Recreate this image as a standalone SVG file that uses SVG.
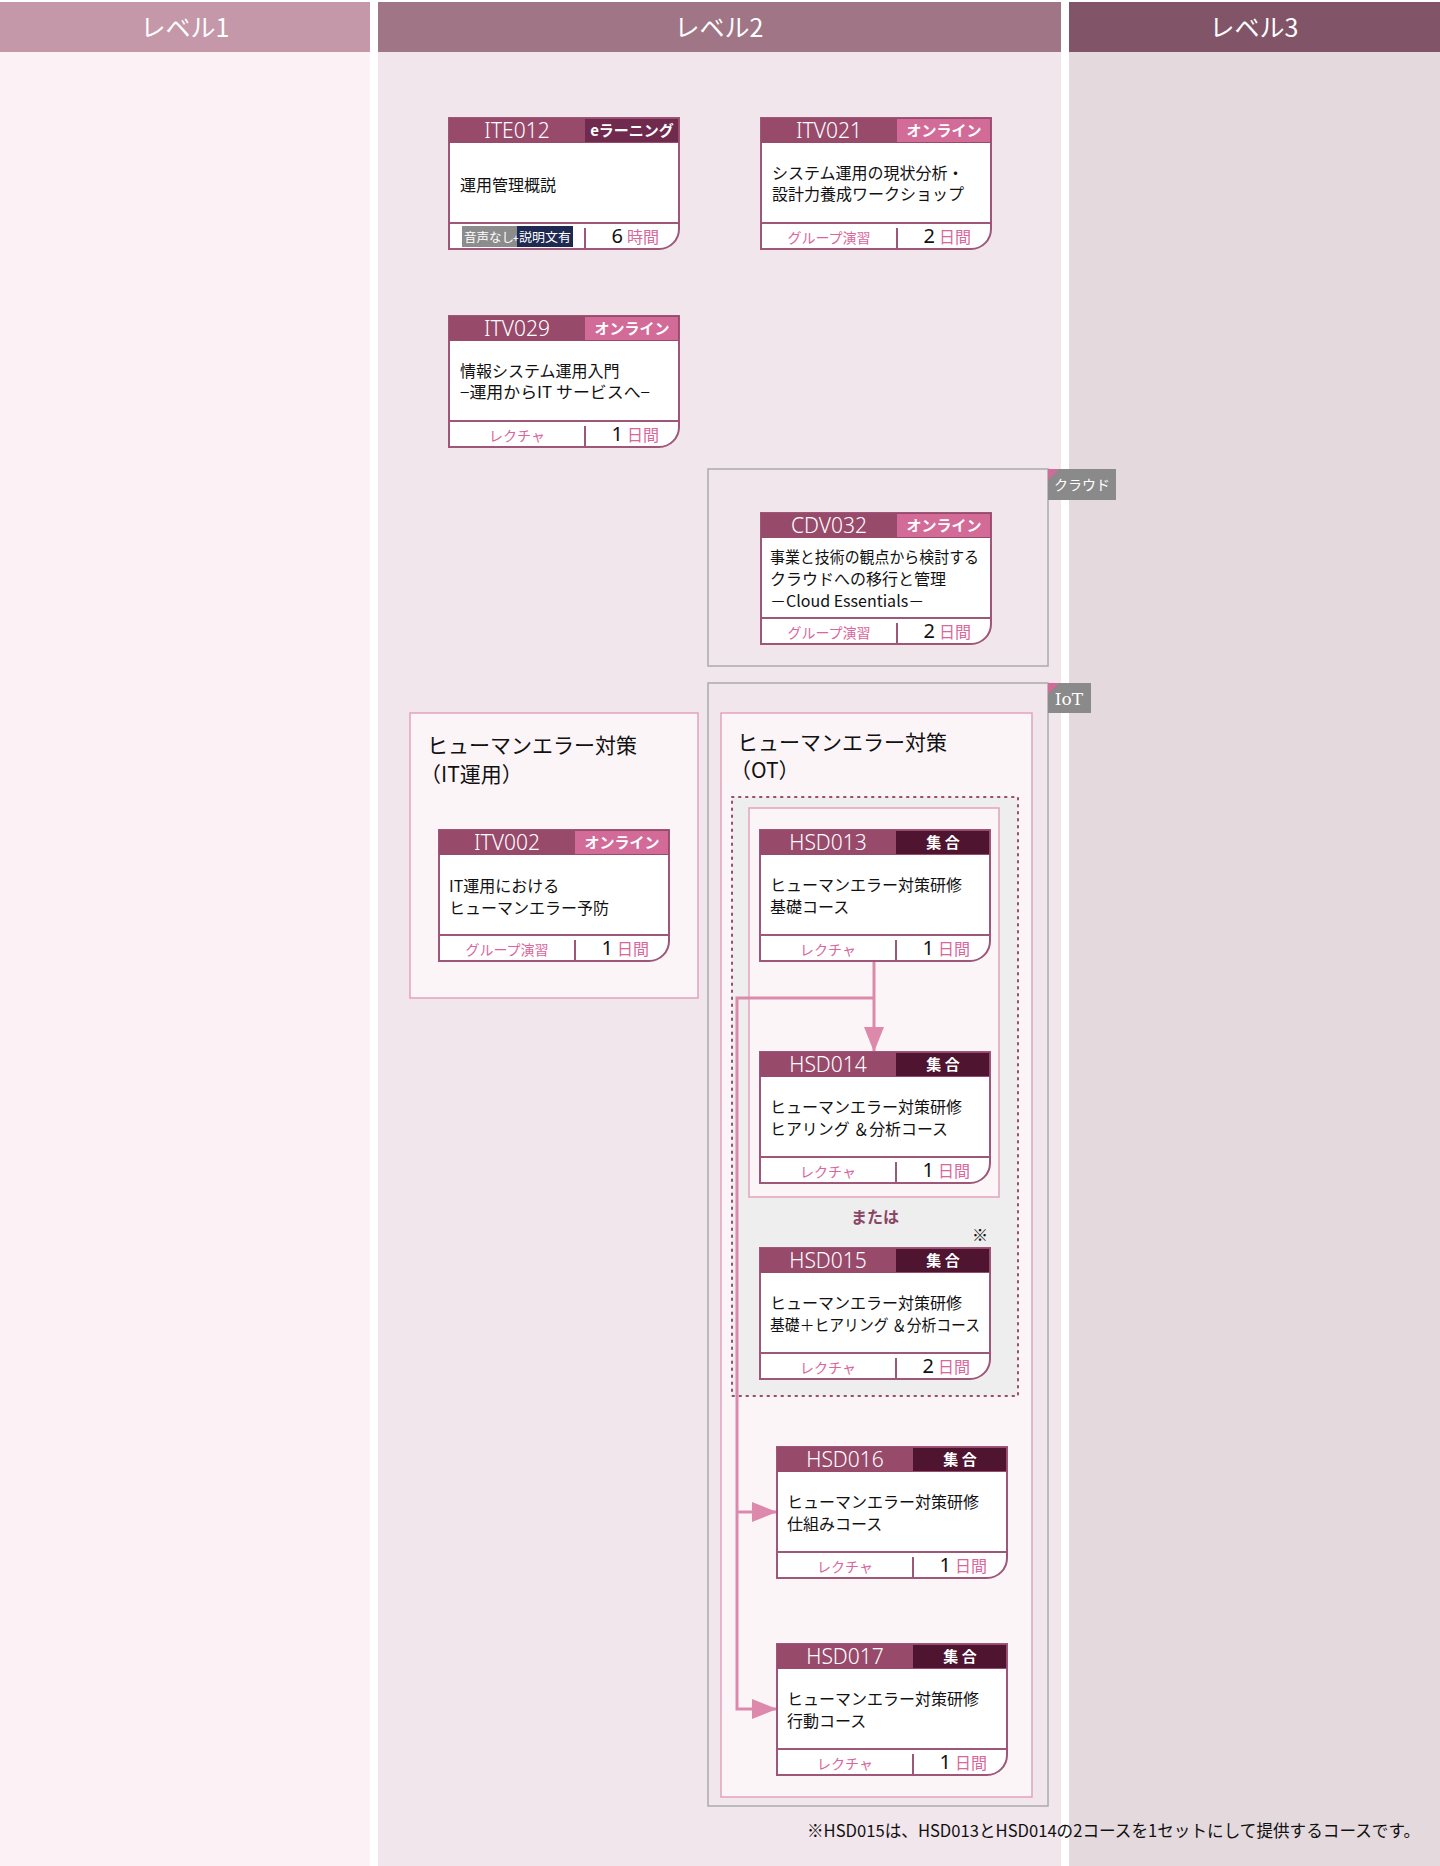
<svg xmlns="http://www.w3.org/2000/svg" width="1440" height="1866" viewBox="0 0 1440 1866">
<style>
text{font-family:"Noto Sans CJK JP","Noto Sans",sans-serif}
.colh{fill:#fff;font-size:25px;text-anchor:middle}
.card{fill:#fff;stroke:#9e5679;stroke-width:2}
.hd{fill:#984a6b}
.b-on{fill:#d26b98}
.b-e{fill:#702a4e}
.b-sh{fill:#4e1430}
.id{fill:#fff;font-family:"Noto Sans",sans-serif;font-weight:300;font-size:21px;text-anchor:middle}
.bdg{fill:#fff;font-size:15px;font-weight:700;text-anchor:middle}
.ttl{fill:#111;font-size:16px}
.fl{fill:none;stroke:#9e5679;stroke-width:2}
.ft{fill:#d9679b;font-size:14px;text-anchor:middle}
.dur{font-size:16px;text-anchor:end}
.num{fill:#111;font-size:20px;font-family:"Noto Sans",sans-serif}
.unit{fill:#d9679b}
.grp{fill:#fcf5f8;stroke:#e3a2be;stroke-width:1.5}
.gttl{fill:#111;font-size:21px}
.cat{fill:#f1e6ec;stroke:#ababab;stroke-width:1.5}
.tag{fill:#8a8a8a}
.tri{fill:#d26b98}
.conn{fill:none;stroke:#dc89ab;stroke-width:3}
</style>
<defs>
<marker id="ah" markerUnits="userSpaceOnUse" markerWidth="26" markerHeight="20" refX="25" refY="10" orient="auto">
<path d="M0,0 L25,10 L0,20 Z" fill="#dc89ab"/>
</marker>
</defs>
<rect width="1440" height="1866" fill="#fff"/>
<g id="columns">
<rect x="0" y="52" width="370" height="1814" fill="#fcf2f5"/>
<rect x="378" y="52" width="683" height="1814" fill="#f1e6ec"/>
<rect x="1069" y="52" width="371" height="1814" fill="#e4d9dd"/>
<rect x="0" y="2" width="370" height="50" fill="#c498a8"/>
<rect x="378" y="2" width="683" height="50" fill="#a07585"/>
<rect x="1069" y="2" width="371" height="50" fill="#815468"/>
<text class="colh" x="185" y="37">レベル1</text>
<text class="colh" x="719" y="37">レベル2</text>
<text class="colh" x="1254" y="37">レベル3</text>
</g>
<g id="groups">
<g id="cloud">
<rect class="cat" x="708" y="469" width="340" height="197"/>
<rect class="tag" x="1048" y="469" width="68" height="31"/>
<polygon class="tri" points="1048,469 1059,469 1048,480"/>
<text x="1082" y="490" fill="#fff" font-size="14" text-anchor="middle">クラウド</text>
</g>
<g id="iot">
<rect class="cat" x="708" y="683" width="340" height="1123"/>
<rect class="tag" x="1048" y="683" width="43" height="30"/>
<polygon class="tri" points="1048,683 1059,683 1048,694"/>
<text x="1069" y="705" fill="#fff" font-size="17" text-anchor="middle" style="font-family:'DejaVu Serif',serif">IoT</text>
</g>
<g id="he-it">
<rect class="grp" x="410" y="713" width="288" height="285"/>
<text class="gttl" x="427" y="753">ヒューマンエラー対策</text>
<text class="gttl" x="420" y="782">（IT運用）</text>
</g>
<g id="he-ot">
<rect class="grp" x="721" y="713" width="311" height="1084"/>
<text class="gttl" x="737" y="750">ヒューマンエラー対策</text>
<text class="gttl" x="730" y="778">（OT）</text>
</g>
<g id="choice">
<rect x="732" y="797" width="286" height="599" fill="#edeeed" stroke="#9b4a6e" stroke-width="2" stroke-dasharray="1.5 5.5" stroke-linecap="round"/>
<rect class="grp" x="749" y="808" width="250" height="389"/>
<text x="875" y="1223" fill="#8a4466" font-size="16" font-weight="700" text-anchor="middle">または</text>
<text x="980" y="1241" fill="#111" font-size="16" text-anchor="middle">※</text>
</g>
</g>
<g id="connectors">
<path class="conn" d="M874,961 V1052" marker-end="url(#ah)"/>
<path class="conn" d="M874,998 H737 V1709 H777" marker-end="url(#ah)"/>
<path class="conn" d="M737,1512 H777" marker-end="url(#ah)"/>
</g>
<g id="ITE012" transform="translate(449,118)">
<path class="card" d="M0,0H230V111A20,20 0 0 1 210,131H0Z"/>
<rect class="hd" width="230" height="25"/>
<rect class="b-e" x="136" y="1" width="93" height="23"/>
<text class="id" x="68" y="20">ITE012</text>
<text class="bdg" x="183" y="18" font-size="14">eラーニング</text>
<text class="ttl" x="11" y="73">運用管理概説</text>
<path class="fl" d="M0,105H230M136,110V131"/>
<rect x="13" y="108" width="55" height="21" fill="#8c8c8c"/>
<rect x="68" y="108" width="56" height="21" fill="#1e2a52"/>
<text x="15" y="124" fill="#fff" font-size="12.5" textLength="50" lengthAdjust="spacingAndGlyphs">音声なし</text>
<text x="64" y="124" fill="#fff" font-size="10">+</text>
<text x="70" y="124" fill="#fff" font-size="12.5" textLength="52" lengthAdjust="spacingAndGlyphs">説明文有</text>
<text class="dur" x="210" y="125"><tspan class="num">6</tspan><tspan class="unit" dx="4">時間</tspan></text>
</g>
<g id="ITV021" transform="translate(761,118)">
<path class="card" d="M0,0H230V111A20,20 0 0 1 210,131H0Z"/>
<rect class="hd" width="230" height="25"/>
<rect class="b-on" x="136" y="1" width="93" height="23"/>
<text class="id" x="68" y="20">ITV021</text>
<text class="bdg" x="183" y="18">オンライン</text>
<text class="ttl" x="11" y="61">システム運用の現状分析・</text>
<text class="ttl" x="11" y="82">設計力養成ワークショップ</text>
<path class="fl" d="M0,105H230M136,110V131"/>
<text class="ft" x="68" y="125">グループ演習</text>
<text class="dur" x="210" y="125"><tspan class="num">2</tspan><tspan class="unit" dx="4">日間</tspan></text>
</g>
<g id="ITV029" transform="translate(449,316)">
<path class="card" d="M0,0H230V111A20,20 0 0 1 210,131H0Z"/>
<rect class="hd" width="230" height="25"/>
<rect class="b-on" x="136" y="1" width="93" height="23"/>
<text class="id" x="68" y="20">ITV029</text>
<text class="bdg" x="183" y="18">オンライン</text>
<text class="ttl" x="11" y="61">情報システム運用入門</text>
<text class="ttl" x="11" y="82" textLength="190" lengthAdjust="spacingAndGlyphs">−運用からIT サービスへ−</text>
<path class="fl" d="M0,105H230M136,110V131"/>
<text class="ft" x="68" y="125">レクチャ</text>
<text class="dur" x="210" y="125"><tspan class="num">1</tspan><tspan class="unit" dx="4">日間</tspan></text>
</g>
<g id="CDV032" transform="translate(761,513)">
<path class="card" d="M0,0H230V111A20,20 0 0 1 210,131H0Z"/>
<rect class="hd" width="230" height="25"/>
<rect class="b-on" x="136" y="1" width="93" height="23"/>
<text class="id" x="68" y="20">CDV032</text>
<text class="bdg" x="183" y="18">オンライン</text>
<text class="ttl" x="9" y="50" textLength="209" lengthAdjust="spacingAndGlyphs">事業と技術の観点から検討する</text>
<text class="ttl" x="9" y="72">クラウドへの移行と管理</text>
<text class="ttl" x="9" y="94" font-size="17">－Cloud Essentials－</text>
<path class="fl" d="M0,105H230M136,110V131"/>
<text class="ft" x="68" y="125">グループ演習</text>
<text class="dur" x="210" y="125"><tspan class="num">2</tspan><tspan class="unit" dx="4">日間</tspan></text>
</g>
<g id="ITV002" transform="translate(439,830)">
<path class="card" d="M0,0H230V111A20,20 0 0 1 210,131H0Z"/>
<rect class="hd" width="230" height="25"/>
<rect class="b-on" x="136" y="1" width="93" height="23"/>
<text class="id" x="68" y="20">ITV002</text>
<text class="bdg" x="183" y="18">オンライン</text>
<text class="ttl" x="10" y="62">IT運用における</text>
<text class="ttl" x="10" y="84">ヒューマンエラー予防</text>
<path class="fl" d="M0,105H230M136,110V131"/>
<text class="ft" x="68" y="125">グループ演習</text>
<text class="dur" x="210" y="125"><tspan class="num">1</tspan><tspan class="unit" dx="4">日間</tspan></text>
</g>
<g id="HSD013" transform="translate(760,830)">
<path class="card" d="M0,0H230V111A20,20 0 0 1 210,131H0Z"/>
<rect class="hd" width="230" height="25"/>
<rect class="b-sh" x="136" y="1" width="93" height="23"/>
<text class="id" x="68" y="20">HSD013</text>
<text class="bdg" x="183" y="18">集 合</text>
<text class="ttl" x="10" y="61">ヒューマンエラー対策研修</text>
<text class="ttl" x="10" y="83">基礎コース</text>
<path class="fl" d="M0,105H230M136,110V131"/>
<text class="ft" x="68" y="125">レクチャ</text>
<text class="dur" x="210" y="125"><tspan class="num">1</tspan><tspan class="unit" dx="4">日間</tspan></text>
</g>
<g id="HSD014" transform="translate(760,1052)">
<path class="card" d="M0,0H230V111A20,20 0 0 1 210,131H0Z"/>
<rect class="hd" width="230" height="25"/>
<rect class="b-sh" x="136" y="1" width="93" height="23"/>
<text class="id" x="68" y="20">HSD014</text>
<text class="bdg" x="183" y="18">集 合</text>
<text class="ttl" x="10" y="61">ヒューマンエラー対策研修</text>
<text class="ttl" x="10" y="83" textLength="178" lengthAdjust="spacingAndGlyphs">ヒアリング ＆分析コース</text>
<path class="fl" d="M0,105H230M136,110V131"/>
<text class="ft" x="68" y="125">レクチャ</text>
<text class="dur" x="210" y="125"><tspan class="num">1</tspan><tspan class="unit" dx="4">日間</tspan></text>
</g>
<g id="HSD015" transform="translate(760,1248)">
<path class="card" d="M0,0H230V111A20,20 0 0 1 210,131H0Z"/>
<rect class="hd" width="230" height="25"/>
<rect class="b-sh" x="136" y="1" width="93" height="23"/>
<text class="id" x="68" y="20">HSD015</text>
<text class="bdg" x="183" y="18">集 合</text>
<text class="ttl" x="10" y="61">ヒューマンエラー対策研修</text>
<text class="ttl" x="10" y="83" textLength="210" lengthAdjust="spacingAndGlyphs">基礎＋ヒアリング ＆分析コース</text>
<path class="fl" d="M0,105H230M136,110V131"/>
<text class="ft" x="68" y="125">レクチャ</text>
<text class="dur" x="210" y="125"><tspan class="num">2</tspan><tspan class="unit" dx="4">日間</tspan></text>
</g>
<g id="HSD016" transform="translate(777,1447)">
<path class="card" d="M0,0H230V111A20,20 0 0 1 210,131H0Z"/>
<rect class="hd" width="230" height="25"/>
<rect class="b-sh" x="136" y="1" width="93" height="23"/>
<text class="id" x="68" y="20">HSD016</text>
<text class="bdg" x="183" y="18">集 合</text>
<text class="ttl" x="10" y="61">ヒューマンエラー対策研修</text>
<text class="ttl" x="10" y="83">仕組みコース</text>
<path class="fl" d="M0,105H230M136,110V131"/>
<text class="ft" x="68" y="125">レクチャ</text>
<text class="dur" x="210" y="125"><tspan class="num">1</tspan><tspan class="unit" dx="4">日間</tspan></text>
</g>
<g id="HSD017" transform="translate(777,1644)">
<path class="card" d="M0,0H230V111A20,20 0 0 1 210,131H0Z"/>
<rect class="hd" width="230" height="25"/>
<rect class="b-sh" x="136" y="1" width="93" height="23"/>
<text class="id" x="68" y="20">HSD017</text>
<text class="bdg" x="183" y="18">集 合</text>
<text class="ttl" x="10" y="61">ヒューマンエラー対策研修</text>
<text class="ttl" x="10" y="83">行動コース</text>
<path class="fl" d="M0,105H230M136,110V131"/>
<text class="ft" x="68" y="125">レクチャ</text>
<text class="dur" x="210" y="125"><tspan class="num">1</tspan><tspan class="unit" dx="4">日間</tspan></text>
</g>
<text x="807" y="1837" fill="#111" font-size="17" textLength="613" lengthAdjust="spacingAndGlyphs">※HSD015は、HSD013とHSD014の2コースを1セットにして提供するコースです。</text>
</svg>
